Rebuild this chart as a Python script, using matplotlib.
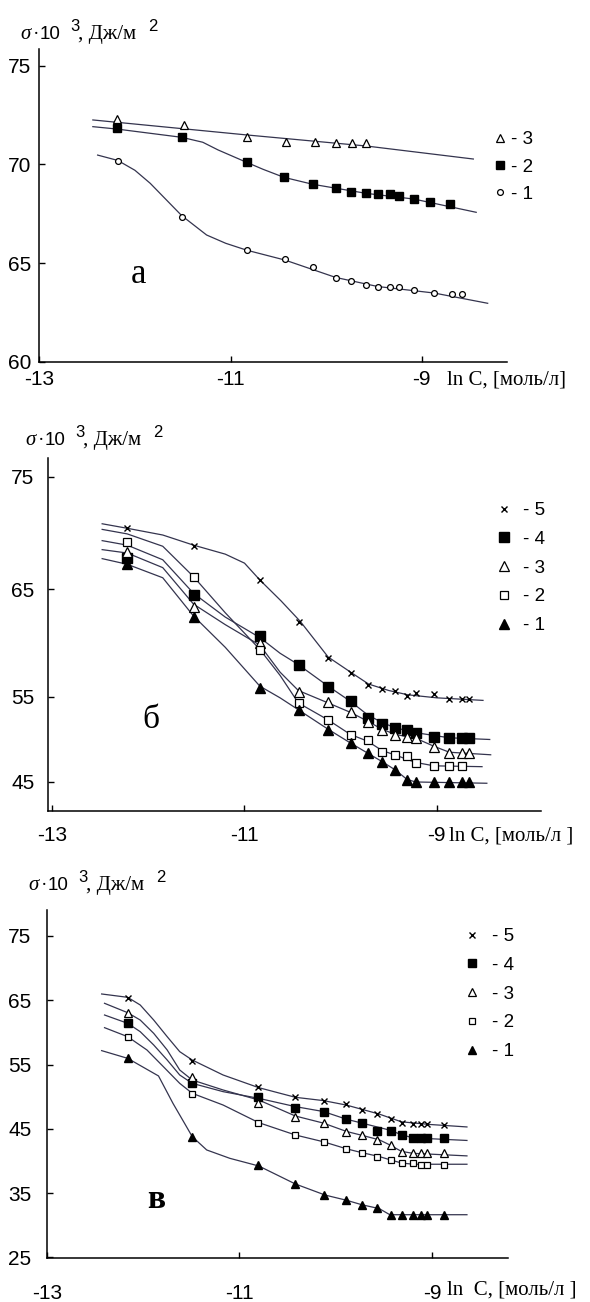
import numpy as np
import matplotlib
matplotlib.use("Agg")
import matplotlib.pyplot as plt
import matplotlib.font_manager as fm

SANS = 'Liberation Sans'
for _f in fm.fontManager.ttflist:
    if _f.name == 'Liberation Sans Narrow':
        SANS = 'Liberation Sans Narrow'
        break
SANS_SIZE = 16.5 if SANS == 'Liberation Sans Narrow' else 15
LEG_SIZE = 15 if SANS == 'Liberation Sans Narrow' else 13.5

plt.rcParams['font.family'] = [SANS, 'DejaVu Sans']
plt.rcParams['axes.unicode_minus'] = False

# ---------------- data: panel а ----------------
a_x3 = [-12.19, -11.49, -10.83, -10.42, -10.12, -9.90, -9.73, -9.58]
a_y3 = [72.30, 71.99, 71.40, 71.15, 71.15, 71.06, 71.10, 71.10]
a_x2 = [-12.19, -11.51, -10.83, -10.44, -10.14, -9.90, -9.74, -9.58, -9.46, -9.33, -9.24, -9.08, -8.91, -8.70]
a_y2 = [71.82, 71.37, 70.10, 69.34, 68.99, 68.78, 68.61, 68.53, 68.48, 68.48, 68.40, 68.24, 68.11, 67.97]
a_x1 = [-12.18, -11.51, -10.83, -10.43, -10.14, -9.90, -9.74, -9.58, -9.46, -9.33, -9.24, -9.08, -8.87, -8.68, -8.58]
a_y1 = [70.17, 67.35, 65.66, 65.19, 64.81, 64.26, 64.09, 63.89, 63.80, 63.80, 63.80, 63.63, 63.50, 63.41, 63.41]

a_c3x = [-12.44, -10.83, -9.58, -8.46]
a_c3y = [72.25, 71.49, 70.93, 70.27]
a_c2x = [-12.44, -12.19, -11.51, -11.29, -11.13, -10.83, -10.66, -10.44, -10.14, -9.58, -9.08, -8.43]
a_c2y = [71.91, 71.79, 71.37, 71.12, 70.73, 70.10, 69.75, 69.34, 68.99, 68.53, 68.24, 67.57]
a_c1x = [-12.39, -12.18, -12.00, -11.84, -11.51, -11.25, -11.05, -10.83, -10.43, -9.90, -9.46, -8.87, -8.31]
a_c1y = [70.47, 70.20, 69.70, 69.04, 67.40, 66.42, 66.00, 65.65, 65.15, 64.27, 63.81, 63.48, 62.96]

# ---------------- data: panel б ----------------
b_x = [-12.22, -11.53, -10.84, -10.43, -10.13, -9.89, -9.72, -9.57, -9.44, -9.31, -9.22, -9.03, -8.87, -8.74, -8.67]
b_y5 = [70.42, 68.82, 65.80, 61.97, 58.58, 57.19, 56.11, 55.74, 55.56, 55.09, 55.34, 55.28, 54.76, 54.76, 54.76]
b_y4 = [67.73, 64.44, 60.65, 57.96, 55.96, 54.53, 52.56, 51.79, 51.32, 51.12, 50.73, 50.33, 50.14, 50.14, 50.14]
b_y3 = [68.32, 63.36, 59.97, 55.49, 54.45, 53.27, 52.09, 51.12, 50.53, 50.33, 50.14, 49.15, 48.38, 48.38, 48.38]
b_x2 = b_x[:14]
b_y2 = [69.15, 66.09, 59.35, 54.26, 52.29, 50.53, 49.94, 48.56, 48.18, 48.06, 47.20, 46.88, 46.88, 46.88]
b_y1 = [67.20, 62.38, 55.81, 53.47, 51.12, 49.55, 48.38, 47.39, 46.41, 45.24, 45.04, 45.04, 45.04, 45.04, 45.04]

b_c5x = [-12.48, -12.22, -11.85, -11.53, -11.20, -11.00, -10.84, -10.62, -10.42, -10.13, -9.88, -9.71, -9.50, -9.30, -9.00, -8.52]
b_c5y = [70.80, 70.40, 69.80, 68.90, 68.10, 67.30, 65.80, 63.90, 62.00, 58.70, 57.20, 56.20, 55.60, 55.20, 54.90, 54.60]
b_c4x = [-12.48, -12.22, -11.85, -11.53, -11.20, -10.84, -10.63, -10.44, -10.13, -9.90, -9.72, -9.57, -9.44, -9.22, -8.87, -8.45]
b_c4y = [69.30, 68.90, 67.60, 64.60, 62.40, 60.50, 59.05, 58.00, 56.00, 54.50, 52.90, 52.00, 51.40, 50.80, 50.20, 50.00]
b_c3x = [-12.48, -12.22, -11.85, -11.53, -11.20, -10.84, -10.63, -10.44, -10.13, -9.90, -9.71, -9.57, -9.43, -9.21, -9.03, -8.87, -8.44]
b_c3y = [68.50, 68.20, 66.90, 63.60, 61.70, 59.80, 57.30, 55.60, 54.30, 53.20, 52.10, 51.20, 50.60, 50.10, 49.20, 48.50, 48.20]
b_c2x = [-12.48, -12.22, -11.85, -11.53, -11.20, -10.84, -10.63, -10.44, -10.13, -9.90, -9.72, -9.57, -9.44, -9.22, -9.03, -8.53]
b_c2y = [70.30, 69.90, 68.80, 66.10, 62.80, 59.40, 57.00, 54.30, 52.30, 50.60, 49.80, 48.70, 48.20, 47.30, 46.90, 46.80]
b_c1x = [-12.48, -12.22, -11.85, -11.53, -11.20, -10.84, -10.63, -10.44, -10.13, -9.90, -9.72, -9.57, -9.43, -9.31, -9.22, -8.48]
b_c1y = [67.70, 67.20, 66.00, 62.50, 59.60, 56.00, 54.90, 53.50, 51.20, 49.60, 48.40, 47.40, 46.40, 45.30, 45.00, 44.85]

# ---------------- data: panel в ----------------
c_x = [-12.16, -11.49, -10.81, -10.42, -10.12, -9.90, -9.73, -9.57, -9.43, -9.31, -9.20, -9.12, -9.05, -8.88]
c_y5 = [65.30, 55.50, 51.45, 50.00, 49.40, 48.80, 48.00, 47.30, 46.50, 45.90, 45.80, 45.80, 45.80, 45.65]
c_y4 = [61.42, 52.09, 49.91, 48.20, 47.68, 46.49, 45.87, 44.72, 44.72, 44.05, 43.53, 43.53, 43.53, 43.53]
c_y3 = [63.07, 53.10, 49.10, 46.90, 45.87, 44.57, 44.05, 43.27, 42.50, 41.45, 41.30, 41.30, 41.30, 41.30]
c_y2 = [59.34, 50.43, 45.97, 44.05, 43.01, 41.83, 41.30, 40.68, 40.16, 39.65, 39.65, 39.39, 39.39, 39.39]
c_y1 = [55.97, 43.79, 39.40, 36.43, 34.72, 33.94, 33.16, 32.65, 31.61, 31.61, 31.61, 31.61, 31.61, 31.61]

c_c5x = [-12.43, -12.16, -12.03, -11.89, -11.75, -11.62, -11.49, -11.17, -10.80, -10.42, -10.13, -9.89, -9.55, -9.32, -9.04, -8.64]
c_c5y = [65.98, 65.46, 64.27, 61.93, 59.34, 57.01, 55.71, 53.38, 51.41, 49.91, 49.40, 48.70, 47.30, 46.10, 45.70, 45.30]
c_c4x = [-12.40, -12.16, -12.03, -11.89, -11.75, -11.62, -11.49, -11.17, -10.80, -10.42, -10.13, -9.89, -9.73, -9.44, -9.32, -9.20, -8.64]
c_c4y = [62.71, 61.42, 60.12, 58.05, 55.71, 53.38, 52.08, 50.79, 49.75, 48.46, 47.70, 46.50, 45.90, 44.80, 44.10, 43.60, 43.20]
c_c3x = [-12.40, -12.16, -12.03, -11.89, -11.75, -11.62, -11.49, -11.17, -10.80, -10.42, -10.13, -9.89, -9.73, -9.55, -9.44, -9.32, -9.20, -8.64]
c_c3y = [64.53, 63.07, 61.93, 59.86, 57.27, 54.16, 52.60, 51.05, 49.49, 47.00, 45.90, 44.60, 44.00, 43.30, 42.50, 41.50, 41.20, 40.80]
c_c2x = [-12.40, -12.16, -11.96, -11.79, -11.62, -11.49, -11.17, -10.80, -10.42, -10.13, -9.89, -9.73, -9.55, -9.44, -9.32, -9.20, -8.64]
c_c2y = [60.74, 59.34, 57.27, 54.68, 52.08, 50.53, 48.71, 45.97, 44.05, 43.00, 41.90, 41.30, 40.70, 40.20, 39.70, 39.50, 39.50]
c_c1x = [-12.43, -12.16, -11.84, -11.69, -11.55, -11.49, -11.34, -11.10, -10.80, -10.42, -10.11, -9.89, -9.73, -9.55, -9.44, -8.64]
c_c1y = [57.17, 55.97, 53.23, 48.97, 45.35, 43.79, 41.72, 40.42, 39.23, 36.43, 34.70, 33.90, 33.20, 32.60, 31.65, 31.65]

x_ticks = [-13, -11, -9]
x_ticklabels = ['-13', '-11', '-9']
a_yticks = [60, 65, 70, 75]
b_yticks = [45, 55, 65, 75]
c_yticks = [25, 35, 45, 55, 65, 75]

# ---------------- figure ----------------
W, H = 590, 1302
fig = plt.figure(figsize=(W / 100, H / 100), dpi=100)
fig.patch.set_facecolor('white')

CURVE = '#34344e'
SERIF = 'Liberation Serif'


def axes_px(l, r, t, b):
    return fig.add_axes([l / W, 1 - b / H, (r - l) / W, (b - t) / H])


def style(ax, xpad, ypad):
    for s in ('top', 'right'):
        ax.spines[s].set_visible(False)
    for s in ('left', 'bottom'):
        ax.spines[s].set_linewidth(1.1)
    ax.tick_params(direction='in', length=4, width=1, labelsize=SANS_SIZE)
    ax.tick_params(axis='x', pad=xpad)
    ax.tick_params(axis='y', pad=ypad)
    ax.set_xticks(x_ticks)
    ax.set_xticklabels(x_ticklabels)
    ax.minorticks_off()
    ax.set_facecolor('none')


def ftext(x, y, s, **kw):
    return fig.text(x / W, 1 - y / H, s, **kw)


def ylabel_px(x0, y0):
    # σ · 10 ³, Дж/м ²  built from pieces (base line y0, superscripts raised)
    ftext(x0, y0, 'σ', fontsize=15, family=SERIF, style='italic', va='baseline')
    ftext(x0 + 13, y0, '·', fontsize=14, family=SERIF, va='baseline')
    ftext(x0 + 20, y0, '10', fontsize=13.5, family='Liberation Sans', va='baseline')
    ftext(x0 + 50, y0 - 8, '3', fontsize=12, family='Liberation Sans', va='baseline')
    ftext(x0 + 58, y0, ', Дж/м', fontsize=15, family=SERIF, va='baseline')
    ftext(x0 + 128, y0 - 8, '2', fontsize=12, family='Liberation Sans', va='baseline')


def legend_px(ax, handles, labels, x, y, pad, spacing):
    ax.legend(handles, labels, loc='upper left', bbox_to_anchor=(x / W, 1 - y / H),
              bbox_transform=fig.transFigure, frameon=False,
              prop={'family': SANS, 'size': LEG_SIZE},
              handlelength=0.6, handletextpad=pad, labelspacing=spacing,
              borderpad=0, borderaxespad=0)


# ---- panel а ----
axa = axes_px(39.3, 506.8, 49.3, 361.7)
axa.set_xlim(-13, -8.11)
axa.set_ylim(60, 75.83)
style(axa, 6, 6)
axa.set_yticks(a_yticks)
axa.plot(a_c3x, a_c3y, color=CURVE, lw=0.9, zorder=2)
axa.plot(a_c2x, a_c2y, color=CURVE, lw=0.9, zorder=2)
axa.plot(a_c1x, a_c1y, color=CURVE, lw=0.9, zorder=2)
h3 = axa.plot(a_x3, a_y3, ls='none', marker='^', ms=5.5, mfc='white', mec='black', mew=0.9, zorder=3)[0]
h2 = axa.plot(a_x2, a_y2, ls='none', marker='s', ms=5.2, mfc='black', mec='black', zorder=3)[0]
h1 = axa.plot(a_x1, a_y1, ls='none', marker='o', ms=4.2, mfc='white', mec='black', mew=0.9, zorder=3)[0]
legend_px(axa, [h3, h2, h1], ['- 3', '- 2', '- 1'], 494, 131, 0.3, 0.55)
ylabel_px(20, 39)
ftext(447, 380, 'ln C, [моль/л]', fontsize=15, family=SERIF, va='center')
ftext(139, 283, 'а', fontsize=25, family=SERIF, ha='center', va='baseline')

# ---- panel б (uneven value scale as printed) ----
B_KV = np.array([45.0, 55.0, 65.0, 75.0])
B_KP = -np.array([782.0, 697.0, 589.0, 476.5])


def _pw(v, xs, ys):
    v = np.asarray(v, dtype=float)
    out = np.interp(v, xs, ys)
    s0 = (ys[1] - ys[0]) / (xs[1] - xs[0])
    s1 = (ys[-1] - ys[-2]) / (xs[-1] - xs[-2])
    out = np.where(v < xs[0], ys[0] + (v - xs[0]) * s0, out)
    out = np.where(v > xs[-1], ys[-1] + (v - xs[-1]) * s1, out)
    return out


def b_fwd(v):
    return _pw(v, B_KV, B_KP)


def b_inv(p):
    return _pw(p, B_KP, B_KV)


axb = axes_px(48.3, 540.7, 458.3, 810.7)
axb.set_yscale('function', functions=(b_fwd, b_inv))
axb.set_xlim(-13.04, -7.92)
axb.set_ylim(41.62, 76.62)
style(axb, 11, 10)
axb.set_yticks(b_yticks)
axb.set_yticklabels([str(t) for t in b_yticks])
for cx, cy in ((b_c5x, b_c5y), (b_c4x, b_c4y), (b_c3x, b_c3y), (b_c2x, b_c2y), (b_c1x, b_c1y)):
    axb.plot(cx, cy, color=CURVE, lw=0.9, zorder=2)
g5 = axb.plot(b_x, b_y5, ls='none', marker='x', ms=4.5, mec='black', mew=1.0, zorder=3)[0]
g4 = axb.plot(b_x, b_y4, ls='none', marker='s', ms=6.5, mfc='black', mec='black', zorder=3)[0]
g3 = axb.plot(b_x, b_y3, ls='none', marker='^', ms=6.5, mfc='white', mec='black', mew=0.9, zorder=3)[0]
g2 = axb.plot(b_x2, b_y2, ls='none', marker='s', ms=6.0, mfc='white', mec='black', mew=0.9, zorder=3)[0]
g1 = axb.plot(b_x, b_y1, ls='none', marker='^', ms=6.5, mfc='black', mec='black', zorder=3)[0]
legend_px(axb, [g5, g4, g3, g2, g1], ['- 5', '- 4', '- 3', '- 2', '- 1'], 498, 502, 0.74, 0.62)
ylabel_px(25, 445)
ftext(449, 836, 'ln C, [моль/л ]', fontsize=15, family=SERIF, va='center')
ftext(151, 728, 'б', fontsize=24, family=SERIF, ha='center', va='baseline')

# ---- panel в ----
axc = axes_px(46.7, 508.4, 910, 1257.8)
axc.set_xlim(-13, -8.21)
axc.set_ylim(24.95, 79.04)
style(axc, 19, 11)
axc.set_yticks(c_yticks)
for cx, cy in ((c_c5x, c_c5y), (c_c4x, c_c4y), (c_c3x, c_c3y), (c_c2x, c_c2y), (c_c1x, c_c1y)):
    axc.plot(cx, cy, color=CURVE, lw=0.9, zorder=2)
k5 = axc.plot(c_x, c_y5, ls='none', marker='x', ms=4.0, mec='black', mew=1.0, zorder=3)[0]
k4 = axc.plot(c_x, c_y4, ls='none', marker='s', ms=6.0, mfc='black', mec='black', zorder=3)[0]
k3 = axc.plot(c_x, c_y3, ls='none', marker='^', ms=5.5, mfc='white', mec='black', mew=0.9, zorder=3)[0]
k2 = axc.plot(c_x, c_y2, ls='none', marker='s', ms=5.0, mfc='white', mec='black', mew=0.9, zorder=3)[0]
k1 = axc.plot(c_x, c_y1, ls='none', marker='^', ms=6.0, mfc='black', mec='black', zorder=3)[0]
legend_px(axc, [k5, k4, k3, k2, k1], ['- 5', '- 4', '- 3', '- 2', '- 1'], 466, 928, 0.76, 0.62)
ylabel_px(28, 890)
ftext(447, 1290, 'ln  C, [моль/л ]', fontsize=15, family=SERIF, va='center')
ftext(156, 1208, 'в', fontsize=24, family=SERIF, ha='center', va='baseline', weight='bold')

fig.savefig('out.png', dpi=100, facecolor='white')
